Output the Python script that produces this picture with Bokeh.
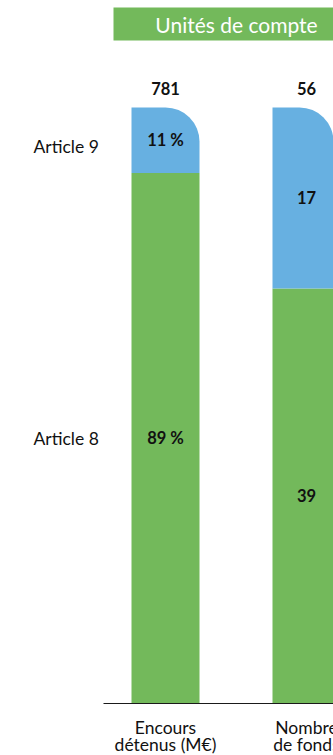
from bokeh.plotting import figure
from bokeh.models import Range1d, ColumnDataSource
from bokeh.core.properties import value
from bokeh.embed import file_html
from bokeh.resources import INLINE

# ---- data ----
categories = ["Encours\ndétenus (M€)", "Nombre\nde fonds"]
totals = ["781", "56"]
article9 = [11, 17]
article8 = [89, 39]
article9_labels = ["11 %", "17"]
article8_labels = ["89 %", "39"]
series_names = ["Article 9", "Article 8"]
banner_title = "Unités de compte"

GREEN = "#73b95b"
BLUE = "#67b0e1"
FONT = "Lato"
INK = "#111111"

# ---- layout (pixels) ----
W, H = 333, 755
BASE_PX, TOP_PX = 703, 107
C0_PX, STEP_PX = 165, 141
ppu_y = (BASE_PX - TOP_PX) / 100.0


def X(px):
    return (px - C0_PX) / STEP_PX


def Y(py):
    return (BASE_PX - py) / ppu_y


xs = list(range(len(categories)))
share9 = [a / (a + b) * 100 for a, b in zip(article9, article8)]
share8 = [b / (a + b) * 100 for a, b in zip(article9, article8)]
cat_line1 = [c.split("\n")[0] for c in categories]
cat_line2 = [c.split("\n")[1] for c in categories]

src = ColumnDataSource(dict(
    x=xs, total=totals, l1=cat_line1, l2=cat_line2,
    s8=share8, s9top=[100.0] * len(xs),
    mid8=[v / 2 for v in share8],
    mid9=[s8 + s9 / 2 for s8, s9 in zip(share8, share9)],
    lab8=article8_labels, lab9=article9_labels,
))

p = figure(width=W, height=H, output_backend="svg", toolbar_location=None,
           x_range=Range1d(X(0), X(W)), y_range=Range1d(Y(H), Y(0)),
           min_border=0, outline_line_color=None)
p.axis.visible = False
p.grid.visible = False
p.background_fill_color = "white"
p.border_fill_color = "white"

bw = 68 / STEP_PX
p.vbar(x="x", bottom=0, top="s8", width=bw, source=src,
       fill_color=GREEN, line_color=None)
p.vbar(x="x", bottom="s8", top="s9top", width=bw, source=src,
       fill_color=BLUE, line_color=None, border_radius=(0, 34, 0, 0))

# baseline
p.segment(x0=X(103), x1=X(W + 5), y0=0, y1=0, line_color="#1a1a1a", line_width=1.2)

# banner
p.quad(left=X(113), right=X(W + 10), top=Y(7), bottom=Y(40),
       fill_color=GREEN, line_color=None)
p.text(x=[X(236)], y=[Y(24)], text=[banner_title], text_color="white",
       text_font=value(FONT), text_font_size="21px",
       text_align="center", text_baseline="middle")

bold = dict(text_font=value(FONT), text_font_style="bold", text_font_size="16.5px",
            text_color=INK, text_align="center", text_baseline="middle")

# totals above bars
p.text(x="x", y=Y(88), text="total", source=src, **bold)

# in-bar labels
p.text(x="x", y="mid9", text="lab9", source=src, **bold)
p.text(x="x", y="mid8", text="lab8", source=src, **bold)

# series labels on the left
p.text(x=[X(33), X(33)], y=[Y(146), Y(438)], text=series_names,
       text_font=value(FONT), text_font_size="17.5px", text_color=INK,
       text_align="left", text_baseline="middle")

# category labels (two lines)
reg = dict(text_font=value(FONT), text_font_size="17.5px", text_color=INK,
           text_align="center", text_baseline="middle")
p.text(x="x", y=Y(727), text="l1", source=src, **reg)
p.text(x="x", y=Y(744), text="l2", source=src, **reg)

open("out.html", "w").write(file_html(p, INLINE))
